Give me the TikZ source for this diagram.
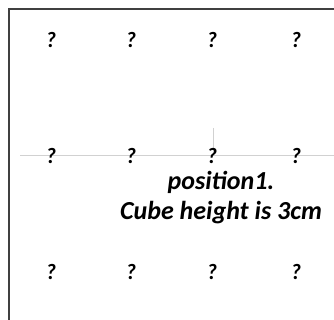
\documentclass[tikz,border=0pt]{standalone}
\usepackage{fontspec}
\setmainfont{Carlito}
\begin{document}
\begin{tikzpicture}[x=1pt,y=-1pt,
  q/.style={font=\fontsize{22}{24}\selectfont\bfseries\itshape, inner sep=0pt},
  lbl/.style={font=\fontsize{26}{30}\selectfont\bfseries\itshape, align=center, inner sep=0pt},
  guide/.style={draw=black!18, line width=0.6pt},
  frame/.style={draw=black!75, line width=1.2pt}]
\useasboundingbox (0,0) rectangle (334,320);
\coordinate (fTL) at (9,9);
\coordinate (fTR) at (334,9);
\coordinate (fBL) at (9,320);
\draw[frame] (fBL) -- (fTL) -- (fTR);
\coordinate (hL) at (20,155);
\coordinate (hR) at (334,155);
\coordinate (vT) at (213,128);
\coordinate (vB) at (213,155);
\draw[guide] (hL) -- (hR);
\draw[guide] (vT) -- (vB);
\foreach \r/\y in {1/40,2/156,3/272}{
  \foreach \c/\x in {1/51,2/131,3/212,4/296}{
    \node[q] (q\r\c) at (\x,\y) {?};
  }
}
\node[lbl] (txt) at (221,198) {position1.\\Cube height is 3cm};
\end{tikzpicture}
\end{document}
